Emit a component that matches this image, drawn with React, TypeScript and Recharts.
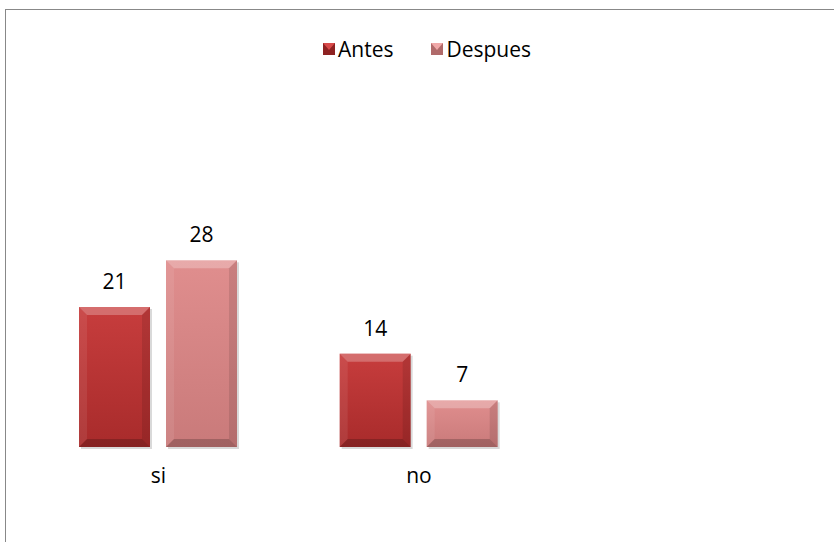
import React from "react";
import { BarChart, Bar, XAxis, YAxis, LabelList } from "recharts";

const categories = ["si", "no", ""];
const antes = [21, 14, null];
const despues = [28, 7, null];
const seriesNames = ["Antes", "Despues"];

const data = categories.map((name, i) => ({
    name,
    antes: antes[i],
    despues: despues[i]
}));

const FONT = "'Open Sans', Calibri, sans-serif";

const BevelBar = (props: any) => {
    const { x, y, width: w, height: h, gradId } = props;
    if (!h || h <= 0) return null;
    const b = 8;
    return (
        <g>
            <rect x={x + 2} y={y + 2} width={w} height={h} fill="rgba(0,0,0,0.15)" />
            <rect x={x} y={y} width={w} height={h} fill={`url(#${gradId})`} />
            <polygon
                points={`${x},${y} ${x + w},${y} ${x + w - b},${y + b} ${x + b},${y + b}`}
                fill="rgba(255,255,255,0.25)"
            />
            <polygon
                points={`${x},${y} ${x + b},${y + b} ${x + b},${y + h - b} ${x},${y + h}`}
                fill="rgba(255,255,255,0.08)"
            />
            <polygon
                points={`${x + w},${y} ${x + w},${y + h} ${x + w - b},${y + h - b} ${x + w - b},${y + b}`}
                fill="rgba(0,0,0,0.1)"
            />
            <polygon
                points={`${x},${y + h} ${x + b},${y + h - b} ${x + w - b},${y + h - b} ${x + w},${y + h}`}
                fill="rgba(0,0,0,0.2)"
            />
        </g>
    );
};

const LegendIcon = ({ top, bottom }: { top: string; bottom: string }) => (
    <svg width={12} height={12} style={{ marginRight: 3 }}>
        <rect x={0} y={0} width={12} height={12} fill={bottom} />
        <polygon points="0,0 12,0 6,7" fill={top} />
    </svg>
);

const App: React.FC = () => {
    return (
        <div
            style={{
                position: "fixed",
                left: 0,
                top: 0,
                width: 834,
                height: 542,
                overflow: "hidden",
                background: "#fff",
                fontFamily: FONT
            }}
        >
            <div
                style={{
                    position: "absolute",
                    left: 5,
                    top: 9,
                    width: 900,
                    height: 600,
                    borderLeft: "1px solid #888",
                    borderTop: "1px solid #888"
                }}
            />
            <div
                style={{
                    position: "absolute",
                    left: 323,
                    top: 35,
                    display: "flex",
                    alignItems: "center",
                    fontSize: 21,
                    color: "#000"
                }}
            >
                <LegendIcon top="#D84A4A" bottom="#8E2222" />
                <span style={{ marginRight: 38 }}>{seriesNames[0]}</span>
                <LegendIcon top="#F0A8A8" bottom="#B06A6A" />
                <span>{seriesNames[1]}</span>
            </div>
            <div style={{ position: "absolute", left: 0, top: 0 }}>
                <BarChart
                    width={834}
                    height={542}
                    data={data}
                    margin={{ top: 247, right: 24, bottom: 45, left: 28 }}
                    barSize={71}
                    barGap={16}
                >
                    <defs>
                        <linearGradient id="gAntes" x1="0" y1="0" x2="0" y2="1">
                            <stop offset="0%" stopColor="#C73D3D" />
                            <stop offset="100%" stopColor="#A82B2B" />
                        </linearGradient>
                        <linearGradient id="gDespues" x1="0" y1="0" x2="0" y2="1">
                            <stop offset="0%" stopColor="#E08E8E" />
                            <stop offset="100%" stopColor="#C97A7A" />
                        </linearGradient>
                    </defs>
                    <XAxis
                        dataKey="name"
                        axisLine={false}
                        tickLine={false}
                        height={50}
                        tickMargin={15}
                        tick={{ fill: "#000", fontSize: 21, fontFamily: FONT }}
                    />
                    <YAxis hide domain={[0, 30]} />
                    <Bar
                        dataKey="antes"
                        name={seriesNames[0]}
                        isAnimationActive={false}
                        shape={(p: any) => <BevelBar {...p} gradId="gAntes" />}
                    >
                        <LabelList
                            dataKey="antes"
                            position="top"
                            offset={18}
                            fill="#000"
                            fontSize={21}
                            fontFamily={FONT}
                        />
                    </Bar>
                    <Bar
                        dataKey="despues"
                        name={seriesNames[1]}
                        isAnimationActive={false}
                        shape={(p: any) => <BevelBar {...p} gradId="gDespues" />}
                    >
                        <LabelList
                            dataKey="despues"
                            position="top"
                            offset={18}
                            fill="#000"
                            fontSize={21}
                            fontFamily={FONT}
                        />
                    </Bar>
                </BarChart>
            </div>
        </div>
    );
};

export default App;
